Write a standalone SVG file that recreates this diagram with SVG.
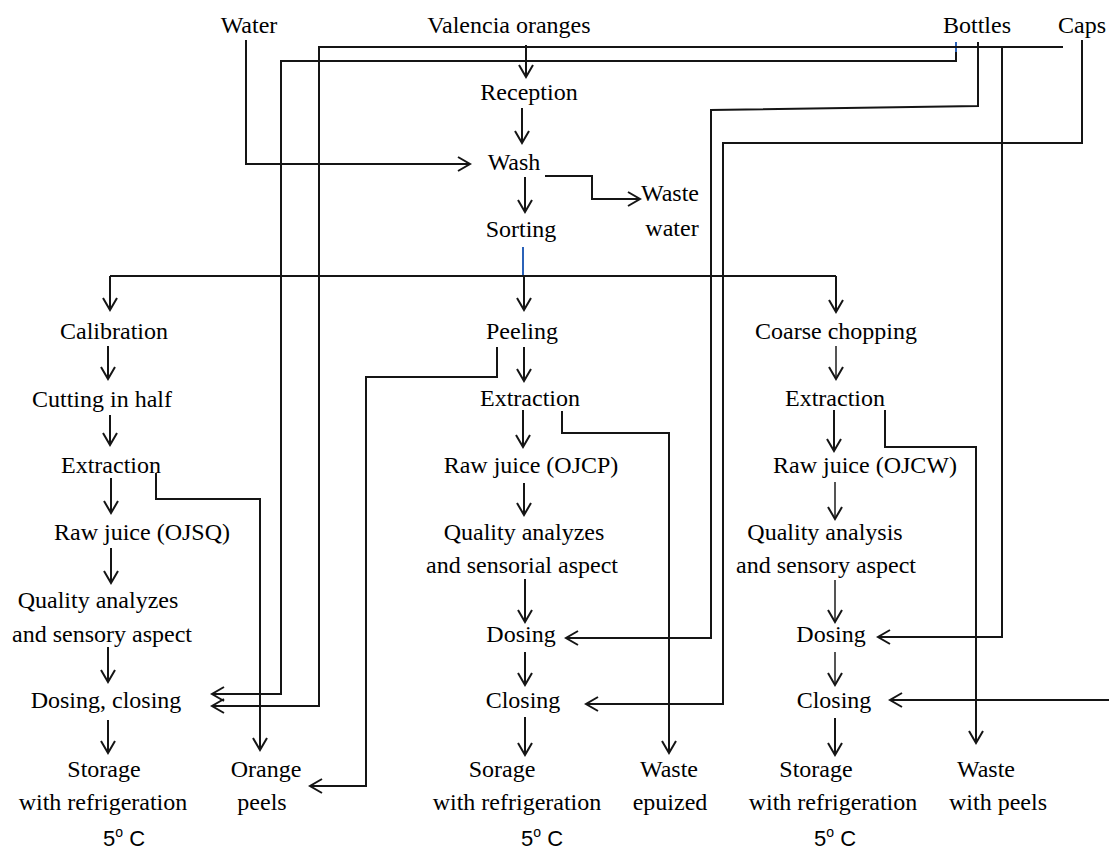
<svg xmlns="http://www.w3.org/2000/svg" width="1109" height="852" viewBox="0 0 1109 852">
<style>
.t{font-family:"Liberation Serif","Times New Roman",serif;font-size:24px;fill:#000;text-anchor:middle}
.s{font-family:"Liberation Sans","Open Sans",sans-serif;font-size:22px;fill:#000;text-anchor:middle}
.c{fill:none;stroke:#151515;stroke-width:2}
.g{fill:none;stroke:#555;stroke-width:2}
.b{fill:none;stroke:#2b62b8;stroke-width:2}
</style>
<defs>
<marker id="ah" markerUnits="userSpaceOnUse" markerWidth="16" markerHeight="16" viewBox="0 0 16 16" refX="13" refY="8" orient="auto">
<path d="M1,1 L13,8 L1,15" fill="none" stroke="#151515" stroke-width="2"/>
</marker>
</defs>
<rect width="1109" height="852" fill="#fff"/>
<g id="connectors">
<!-- main trunk -->
<path class="c" d="M526,45 V77" marker-end="url(#ah)"/>
<path class="c" d="M522,108 V143" marker-end="url(#ah)"/>
<path class="c" d="M525,177 V212" marker-end="url(#ah)"/>
<path class="b" d="M523,247 V276"/>
<path class="c" d="M110,276 H836"/>
<path class="c" d="M110,276 V310" marker-end="url(#ah)"/>
<path class="c" d="M524,276 V310" marker-end="url(#ah)"/>
<path class="c" d="M836,276 V312" marker-end="url(#ah)"/>
<!-- water -->
<path class="c" d="M246,40 V164 H470" marker-end="url(#ah)"/>
<!-- waste water -->
<path class="c" d="M545,176 H592 V199 H640" marker-end="url(#ah)"/>
<!-- left column -->
<path class="c" d="M108,346 V379" marker-end="url(#ah)"/>
<path class="c" d="M110,415 V445" marker-end="url(#ah)"/>
<path class="c" d="M111,478 V513" marker-end="url(#ah)"/>
<path class="c" d="M111,548 V583" marker-end="url(#ah)"/>
<path class="c" d="M108,647 V682" marker-end="url(#ah)"/>
<path class="c" d="M108,720 V753" marker-end="url(#ah)"/>
<!-- middle column -->
<path class="c" d="M524,347 V381" marker-end="url(#ah)"/>
<path class="c" d="M523,410 V447" marker-end="url(#ah)"/>
<path class="c" d="M524,483 V515" marker-end="url(#ah)"/>
<path class="c" d="M525,579 V622" marker-end="url(#ah)"/>
<path class="c" d="M525,652 V685" marker-end="url(#ah)"/>
<path class="c" d="M525,717 V755" marker-end="url(#ah)"/>
<!-- right column -->
<path class="g" d="M836,346 V379" marker-end="url(#ah)"/>
<path class="c" d="M834,410 V451" marker-end="url(#ah)"/>
<path class="g" d="M835,482 V519" marker-end="url(#ah)"/>
<path class="g" d="M835,580 V622" marker-end="url(#ah)"/>
<path class="g" d="M835,652 V685" marker-end="url(#ah)"/>
<path class="c" d="M835,718 V755" marker-end="url(#ah)"/>
<!-- waste branches -->
<path class="c" d="M156,473 V499 H260 V750" marker-end="url(#ah)"/>
<path class="c" d="M497,347 V377 H366 V786 H310" marker-end="url(#ah)"/>
<path class="c" d="M562,411 V433 H669 V753" marker-end="url(#ah)"/>
<path class="c" d="M885,410 V447 H976 V743" marker-end="url(#ah)"/>
<!-- bottles & caps -->
<path class="b" d="M956,42 V52"/>
<path class="c" d="M956,52 V61 H281 V694 H212" marker-end="url(#ah)"/>
<path class="c" d="M1063,47 H319 V706 H212" marker-end="url(#ah)"/>
<path class="c" d="M978,42 V106 L711,110 V638 H566" marker-end="url(#ah)"/>
<path class="c" d="M1082,40 V143 H723 V704 H586" marker-end="url(#ah)"/>
<path class="c" d="M1002,47 V637 H878" marker-end="url(#ah)"/>
<path class="c" d="M1109,700 H890" marker-end="url(#ah)"/>
</g>
<g id="n-water"><text class="t" x="249" y="33">Water</text></g>
<g id="n-oranges"><text class="t" x="509" y="33">Valencia oranges</text></g>
<g id="n-bottles"><text class="t" x="977" y="33">Bottles</text></g>
<g id="n-caps"><text class="t" x="1082" y="33">Caps</text></g>
<g id="n-reception"><text class="t" x="529" y="100">Reception</text></g>
<g id="n-wash"><text class="t" x="514" y="170">Wash</text></g>
<g id="n-wastewater"><text class="t" x="670" y="201">Waste</text><text class="t" x="672" y="236">water</text></g>
<g id="n-sorting"><text class="t" x="521" y="237">Sorting</text></g>
<g id="n-calibration"><text class="t" x="114" y="339">Calibration</text></g>
<g id="n-cutting"><text class="t" x="102" y="407">Cutting in half</text></g>
<g id="n-extraction1"><text class="t" x="111" y="473">Extraction</text></g>
<g id="n-rawjuice1"><text class="t" x="142" y="540">Raw juice (OJSQ)</text></g>
<g id="n-quality1"><text class="t" x="98" y="608">Quality analyzes</text><text class="t" x="102" y="642">and sensory aspect</text></g>
<g id="n-dosing1"><text class="t" x="106" y="708">Dosing, closing</text></g>
<g id="n-storage1"><text class="t" x="104" y="777">Storage</text><text class="t" x="103" y="810">with refrigeration</text><text class="s" x="124" y="846">5<tspan font-size="14" dy="-9">o</tspan><tspan dy="9"> C</tspan></text></g>
<g id="n-orangepeels"><text class="t" x="266" y="777">Orange</text><text class="t" x="262" y="810">peels</text></g>
<g id="n-peeling"><text class="t" x="522" y="339">Peeling</text></g>
<g id="n-extraction2"><text class="t" x="530" y="406">Extraction</text></g>
<g id="n-rawjuice2"><text class="t" x="531" y="473">Raw juice (OJCP)</text></g>
<g id="n-quality2"><text class="t" x="524" y="540">Quality analyzes</text><text class="t" x="522" y="573">and sensorial aspect</text></g>
<g id="n-dosing2"><text class="t" x="521" y="642">Dosing</text></g>
<g id="n-closing2"><text class="t" x="523" y="708">Closing</text></g>
<g id="n-storage2"><text class="t" x="502" y="777">Sorage</text><text class="t" x="517" y="810">with refrigeration</text><text class="s" x="542" y="846">5<tspan font-size="14" dy="-9">o</tspan><tspan dy="9"> C</tspan></text></g>
<g id="n-wasteepuized"><text class="t" x="669" y="777">Waste</text><text class="t" x="670" y="810">epuized</text></g>
<g id="n-coarse"><text class="t" x="836" y="339">Coarse chopping</text></g>
<g id="n-extraction3"><text class="t" x="835" y="406">Extraction</text></g>
<g id="n-rawjuice3"><text class="t" x="865" y="473">Raw juice (OJCW)</text></g>
<g id="n-quality3"><text class="t" x="825" y="540">Quality analysis</text><text class="t" x="826" y="573">and sensory aspect</text></g>
<g id="n-dosing3"><text class="t" x="831" y="642">Dosing</text></g>
<g id="n-closing3"><text class="t" x="834" y="708">Closing</text></g>
<g id="n-storage3"><text class="t" x="816" y="777">Storage</text><text class="t" x="833" y="810">with refrigeration</text><text class="s" x="835" y="846">5<tspan font-size="14" dy="-9">o</tspan><tspan dy="9"> C</tspan></text></g>
<g id="n-wastepeels"><text class="t" x="986" y="777">Waste</text><text class="t" x="998" y="810">with peels</text></g>
</svg>
